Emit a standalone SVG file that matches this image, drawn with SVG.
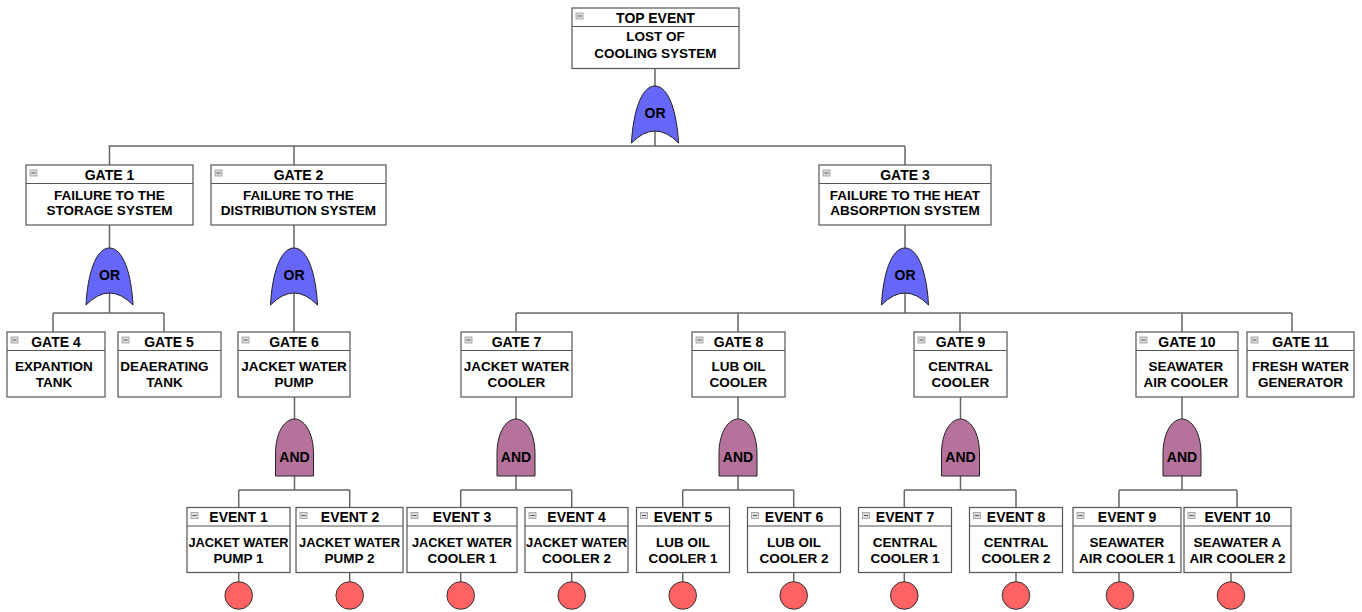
<svg xmlns="http://www.w3.org/2000/svg" xmlns:xlink="http://www.w3.org/1999/xlink" width="1362" height="612" viewBox="0 0 1362 612">
<style>
.box{fill:#fff;stroke:#555;stroke-width:1.2}
.dv{stroke:#555;stroke-width:1.2}
.ico{fill:#ddd;stroke:#999;stroke-width:0.8}
.icl{stroke:#555;stroke-width:1}
text{font-family:"Liberation Sans",Arial,sans-serif;font-weight:bold;fill:#000;text-anchor:middle}
.h{font-size:14px}
.b{font-size:13.5px}
.g{font-size:14px}
.or{fill:#6666f8;stroke:#222;stroke-width:1}
.and{fill:#b5739c;stroke:#222;stroke-width:1}
.ev{fill:#ff6262;stroke:#333;stroke-width:1}
#connectors line{stroke:#666;stroke-width:1.5}
</style>
<defs>
<path id="orShape" d="M -23.5,57 C -22,27 -14,0 0,0 C 14,0 22,27 23.5,57 Q 0,33 -23.5,57 Z"/>
<path id="andShape" d="M -19,57 L -19,35 C -19,12 -9,0 0,0 C 9,0 19,12 19,35 L 19,57 Z"/>
</defs>
<rect width="1362" height="612" fill="#fff"/>

<g id="connectors">
<line x1="655" y1="68.5" x2="655" y2="146"/>
<line x1="108.6" y1="146" x2="905" y2="146"/>
<line x1="109.5" y1="146" x2="109.5" y2="165"/>
<line x1="294" y1="146" x2="294" y2="165"/>
<line x1="905" y1="146" x2="905" y2="165"/>
<line x1="109.5" y1="225" x2="109.5" y2="313"/>
<line x1="53" y1="313" x2="164" y2="313"/>
<line x1="53" y1="313" x2="53" y2="332"/>
<line x1="164" y1="313" x2="164" y2="332"/>
<line x1="294" y1="225" x2="294" y2="332"/>
<line x1="905" y1="225" x2="905" y2="313"/>
<line x1="516" y1="313" x2="1292" y2="313"/>
<line x1="516" y1="313" x2="516" y2="332"/>
<line x1="738" y1="313" x2="738" y2="332"/>
<line x1="960" y1="313" x2="960" y2="332"/>
<line x1="1182" y1="313" x2="1182" y2="332"/>
<line x1="1292" y1="313" x2="1292" y2="332"/>
<line x1="294.5" y1="397" x2="294.5" y2="490"/>
<line x1="238.7" y1="490" x2="349.7" y2="490"/>
<line x1="238.7" y1="490" x2="238.7" y2="507.5"/>
<line x1="349.7" y1="490" x2="349.7" y2="507.5"/>
<line x1="516" y1="397" x2="516" y2="490"/>
<line x1="460.7" y1="490" x2="571.7" y2="490"/>
<line x1="460.7" y1="490" x2="460.7" y2="507.5"/>
<line x1="571.7" y1="490" x2="571.7" y2="507.5"/>
<line x1="738" y1="397" x2="738" y2="490"/>
<line x1="682.7" y1="490" x2="793.7" y2="490"/>
<line x1="682.7" y1="490" x2="682.7" y2="507.5"/>
<line x1="793.7" y1="490" x2="793.7" y2="507.5"/>
<line x1="960.5" y1="397" x2="960.5" y2="490"/>
<line x1="904.3" y1="490" x2="1016" y2="490"/>
<line x1="904.3" y1="490" x2="904.3" y2="507.5"/>
<line x1="1016" y1="490" x2="1016" y2="507.5"/>
<line x1="1182" y1="397" x2="1182" y2="490"/>
<line x1="1119" y1="490" x2="1237" y2="490"/>
<line x1="1119" y1="490" x2="1119" y2="507.5"/>
<line x1="1237" y1="490" x2="1237" y2="507.5"/>
<line x1="238.7" y1="572.5" x2="238.7" y2="582"/>
<line x1="349.7" y1="572.5" x2="349.7" y2="582"/>
<line x1="460.7" y1="572.5" x2="460.7" y2="582"/>
<line x1="571.7" y1="572.5" x2="571.7" y2="582"/>
<line x1="682.7" y1="572.5" x2="682.7" y2="582"/>
<line x1="793.7" y1="572.5" x2="793.7" y2="582"/>
<line x1="904.3" y1="572.5" x2="904.3" y2="582"/>
<line x1="1016" y1="572.5" x2="1016" y2="582"/>
<line x1="1119" y1="572.5" x2="1119" y2="582"/>
<line x1="1231" y1="572.5" x2="1231" y2="582"/>
</g>

<!-- Logic gates -->
<g id="gate-or-top"><use href="#orShape" class="or" x="655" y="86"/><text class="g" x="655" y="118">OR</text></g>
<g id="gate-or-1"><use href="#orShape" class="or" x="109.5" y="248"/><text class="g" x="109.5" y="280">OR</text></g>
<g id="gate-or-2"><use href="#orShape" class="or" x="294" y="248"/><text class="g" x="294" y="280">OR</text></g>
<g id="gate-or-3"><use href="#orShape" class="or" x="905" y="248"/><text class="g" x="905" y="280">OR</text></g>
<g id="gate-and-6"><use href="#andShape" class="and" x="294.5" y="419"/><text class="g" x="294.5" y="462">AND</text></g>
<g id="gate-and-7"><use href="#andShape" class="and" x="516" y="419"/><text class="g" x="516" y="462">AND</text></g>
<g id="gate-and-8"><use href="#andShape" class="and" x="738" y="419"/><text class="g" x="738" y="462">AND</text></g>
<g id="gate-and-9"><use href="#andShape" class="and" x="960.5" y="419"/><text class="g" x="960.5" y="462">AND</text></g>
<g id="gate-and-10"><use href="#andShape" class="and" x="1182" y="419"/><text class="g" x="1182" y="462">AND</text></g>

<!-- Top event -->
<g id="top-event">
<rect class="box" x="572" y="8" width="167" height="60.5"/>
<line class="dv" x1="572" y1="26.5" x2="739" y2="26.5"/>
<rect class="ico" x="576" y="13" width="7" height="6"/><line class="icl" x1="577.5" y1="16" x2="581.5" y2="16"/>
<text class="h" x="655.5" y="23">TOP EVENT</text>
<text class="b" x="655.5" y="41">LOST OF</text>
<text class="b" x="655.5" y="57.5">COOLING SYSTEM</text>
</g>

<!-- Level 1 -->
<g id="gate-1">
<rect class="box" x="26" y="165" width="167" height="60"/>
<line class="dv" x1="26" y1="183.5" x2="193" y2="183.5"/>
<rect class="ico" x="30" y="170" width="7" height="6"/><line class="icl" x1="31.5" y1="173" x2="35.5" y2="173"/>
<text class="h" x="109.5" y="180">GATE 1</text>
<text class="b" x="109.5" y="199.5">FAILURE TO THE</text>
<text class="b" x="109.5" y="215">STORAGE SYSTEM</text>
</g>
<g id="gate-2">
<rect class="box" x="211" y="165" width="175" height="60"/>
<line class="dv" x1="211" y1="183.5" x2="386" y2="183.5"/>
<rect class="ico" x="215" y="170" width="7" height="6"/><line class="icl" x1="216.5" y1="173" x2="220.5" y2="173"/>
<text class="h" x="298.5" y="180">GATE 2</text>
<text class="b" x="298.5" y="199.5">FAILURE TO THE</text>
<text class="b" x="298.5" y="215">DISTRIBUTION SYSTEM</text>
</g>
<g id="gate-3">
<rect class="box" x="819" y="165" width="172" height="60"/>
<line class="dv" x1="819" y1="183.5" x2="991" y2="183.5"/>
<rect class="ico" x="823" y="170" width="7" height="6"/><line class="icl" x1="824.5" y1="173" x2="828.5" y2="173"/>
<text class="h" x="905" y="180">GATE 3</text>
<text class="b" x="905" y="199.5">FAILURE TO THE HEAT</text>
<text class="b" x="905" y="215">ABSORPTION SYSTEM</text>
</g>

<!-- Level 2 -->
<g id="gate-4">
<rect class="box" x="7" y="332" width="98" height="65"/>
<line class="dv" x1="7" y1="350.5" x2="105" y2="350.5"/>
<rect class="ico" x="11" y="337" width="7" height="6"/><line class="icl" x1="12.5" y1="340" x2="16.5" y2="340"/>
<text class="h" x="56" y="346.7">GATE 4</text>
<text class="b" x="54" y="370.5">EXPANTION</text>
<text class="b" x="54" y="386.5">TANK</text>
</g>
<g id="gate-5">
<rect class="box" x="118" y="332" width="103" height="65"/>
<line class="dv" x1="118" y1="350.5" x2="221" y2="350.5"/>
<rect class="ico" x="122" y="337" width="7" height="6"/><line class="icl" x1="123.5" y1="340" x2="127.5" y2="340"/>
<text class="h" x="169" y="346.7">GATE 5</text>
<text class="b" x="164.5" y="370.5">DEAERATING</text>
<text class="b" x="164.5" y="386.5">TANK</text>
</g>
<g id="gate-6">
<rect class="box" x="238" y="332" width="112" height="65"/>
<line class="dv" x1="238" y1="350.5" x2="350" y2="350.5"/>
<rect class="ico" x="242" y="337" width="7" height="6"/><line class="icl" x1="243.5" y1="340" x2="247.5" y2="340"/>
<text class="h" x="294" y="346.7">GATE 6</text>
<text class="b" x="294" y="370.5">JACKET WATER</text>
<text class="b" x="294" y="386.5">PUMP</text>
</g>
<g id="gate-7">
<rect class="box" x="461" y="332" width="111" height="65"/>
<line class="dv" x1="461" y1="350.5" x2="572" y2="350.5"/>
<rect class="ico" x="465" y="337" width="7" height="6"/><line class="icl" x1="466.5" y1="340" x2="470.5" y2="340"/>
<text class="h" x="516.5" y="346.7">GATE 7</text>
<text class="b" x="516.5" y="370.5">JACKET WATER</text>
<text class="b" x="516.5" y="386.5">COOLER</text>
</g>
<g id="gate-8">
<rect class="box" x="692" y="332" width="93" height="65"/>
<line class="dv" x1="692" y1="350.5" x2="785" y2="350.5"/>
<rect class="ico" x="696" y="337" width="7" height="6"/><line class="icl" x1="697.5" y1="340" x2="701.5" y2="340"/>
<text class="h" x="738.5" y="346.7">GATE 8</text>
<text class="b" x="738.5" y="370.5">LUB OIL</text>
<text class="b" x="738.5" y="386.5">COOLER</text>
</g>
<g id="gate-9">
<rect class="box" x="914" y="332" width="93" height="65"/>
<line class="dv" x1="914" y1="350.5" x2="1007" y2="350.5"/>
<rect class="ico" x="918" y="337" width="7" height="6"/><line class="icl" x1="919.5" y1="340" x2="923.5" y2="340"/>
<text class="h" x="960.5" y="346.7">GATE 9</text>
<text class="b" x="960.5" y="370.5">CENTRAL</text>
<text class="b" x="960.5" y="386.5">COOLER</text>
</g>
<g id="gate-10">
<rect class="box" x="1136" y="332" width="102" height="65"/>
<line class="dv" x1="1136" y1="350.5" x2="1238" y2="350.5"/>
<rect class="ico" x="1140" y="337" width="7" height="6"/><line class="icl" x1="1141.5" y1="340" x2="1145.5" y2="340"/>
<text class="h" x="1187" y="346.7">GATE 10</text>
<text class="b" x="1186" y="370.5">SEAWATER</text>
<text class="b" x="1186" y="386.5">AIR COOLER</text>
</g>
<g id="gate-11">
<rect class="box" x="1247" y="332" width="107" height="65"/>
<line class="dv" x1="1247" y1="350.5" x2="1354" y2="350.5"/>
<rect class="ico" x="1251" y="337" width="7" height="6"/><line class="icl" x1="1252.5" y1="340" x2="1256.5" y2="340"/>
<text class="h" x="1300.5" y="346.7">GATE 11</text>
<text class="b" x="1300.5" y="370.5">FRESH WATER</text>
<text class="b" x="1300.5" y="386.5">GENERATOR</text>
</g>

<!-- Basic events -->
<g id="event-1">
<rect class="box" x="187" y="507.5" width="103" height="65"/>
<line class="dv" x1="187" y1="526" x2="290" y2="526"/>
<rect class="ico" x="191" y="512.5" width="7" height="6"/><line class="icl" x1="192.5" y1="515.5" x2="196.5" y2="515.5"/>
<text class="h" x="238.5" y="522">EVENT 1</text>
<text class="b" x="238.5" y="547" textLength="100" lengthAdjust="spacingAndGlyphs">JACKET WATER</text>
<text class="b" x="238.5" y="563">PUMP 1</text>
<circle class="ev" cx="238.7" cy="595.5" r="13.8"/>
</g>
<g id="event-2">
<rect class="box" x="296" y="507.5" width="107" height="65"/>
<line class="dv" x1="296" y1="526" x2="403" y2="526"/>
<rect class="ico" x="300" y="512.5" width="7" height="6"/><line class="icl" x1="301.5" y1="515.5" x2="305.5" y2="515.5"/>
<text class="h" x="350" y="522">EVENT 2</text>
<text class="b" x="349.5" y="547" textLength="101" lengthAdjust="spacingAndGlyphs">JACKET WATER</text>
<text class="b" x="349.5" y="563">PUMP 2</text>
<circle class="ev" cx="349.7" cy="595.5" r="13.8"/>
</g>
<g id="event-3">
<rect class="box" x="407" y="507.5" width="110" height="65"/>
<line class="dv" x1="407" y1="526" x2="517" y2="526"/>
<rect class="ico" x="411" y="512.5" width="7" height="6"/><line class="icl" x1="412.5" y1="515.5" x2="416.5" y2="515.5"/>
<text class="h" x="462" y="522">EVENT 3</text>
<text class="b" x="462" y="547" textLength="100" lengthAdjust="spacingAndGlyphs">JACKET WATER</text>
<text class="b" x="462" y="563">COOLER 1</text>
<circle class="ev" cx="460.7" cy="595.5" r="13.8"/>
</g>
<g id="event-4">
<rect class="box" x="525" y="507.5" width="103" height="65"/>
<line class="dv" x1="525" y1="526" x2="628" y2="526"/>
<rect class="ico" x="529" y="512.5" width="7" height="6"/><line class="icl" x1="530.5" y1="515.5" x2="534.5" y2="515.5"/>
<text class="h" x="576.5" y="522">EVENT 4</text>
<text class="b" x="576.5" y="547" textLength="101" lengthAdjust="spacingAndGlyphs">JACKET WATER</text>
<text class="b" x="576.5" y="563">COOLER 2</text>
<circle class="ev" cx="571.7" cy="595.5" r="13.8"/>
</g>
<g id="event-5">
<rect class="box" x="636.5" y="507.5" width="93" height="65"/>
<line class="dv" x1="636.5" y1="526" x2="729.5" y2="526"/>
<rect class="ico" x="640.5" y="512.5" width="7" height="6"/><line class="icl" x1="642" y1="515.5" x2="646" y2="515.5"/>
<text class="h" x="683" y="522">EVENT 5</text>
<text class="b" x="683" y="547">LUB OIL</text>
<text class="b" x="683" y="563">COOLER 1</text>
<circle class="ev" cx="682.7" cy="595.5" r="13.8"/>
</g>
<g id="event-6">
<rect class="box" x="747.5" y="507.5" width="93" height="65"/>
<line class="dv" x1="747.5" y1="526" x2="840.5" y2="526"/>
<rect class="ico" x="751.5" y="512.5" width="7" height="6"/><line class="icl" x1="753" y1="515.5" x2="757" y2="515.5"/>
<text class="h" x="794" y="522">EVENT 6</text>
<text class="b" x="794" y="547">LUB OIL</text>
<text class="b" x="794" y="563">COOLER 2</text>
<circle class="ev" cx="793.7" cy="595.5" r="13.8"/>
</g>
<g id="event-7">
<rect class="box" x="858.5" y="507.5" width="93" height="65"/>
<line class="dv" x1="858.5" y1="526" x2="951.5" y2="526"/>
<rect class="ico" x="862.5" y="512.5" width="7" height="6"/><line class="icl" x1="864" y1="515.5" x2="868" y2="515.5"/>
<text class="h" x="905" y="522">EVENT 7</text>
<text class="b" x="905" y="547">CENTRAL</text>
<text class="b" x="905" y="563">COOLER 1</text>
<circle class="ev" cx="904.3" cy="595.5" r="13.8"/>
</g>
<g id="event-8">
<rect class="box" x="969.5" y="507.5" width="93" height="65"/>
<line class="dv" x1="969.5" y1="526" x2="1062.5" y2="526"/>
<rect class="ico" x="973.5" y="512.5" width="7" height="6"/><line class="icl" x1="975" y1="515.5" x2="979" y2="515.5"/>
<text class="h" x="1016" y="522">EVENT 8</text>
<text class="b" x="1016" y="547">CENTRAL</text>
<text class="b" x="1016" y="563">COOLER 2</text>
<circle class="ev" cx="1016" cy="595.5" r="13.8"/>
</g>
<g id="event-9">
<rect class="box" x="1073" y="507.5" width="108" height="65"/>
<line class="dv" x1="1073" y1="526" x2="1181" y2="526"/>
<rect class="ico" x="1077" y="512.5" width="7" height="6"/><line class="icl" x1="1078.5" y1="515.5" x2="1082.5" y2="515.5"/>
<text class="h" x="1127" y="522">EVENT 9</text>
<text class="b" x="1127" y="547">SEAWATER</text>
<text class="b" x="1127" y="563">AIR COOLER 1</text>
<circle class="ev" cx="1120" cy="595.5" r="13.8"/>
</g>
<g id="event-10">
<rect class="box" x="1184" y="507.5" width="107" height="65"/>
<line class="dv" x1="1184" y1="526" x2="1291" y2="526"/>
<rect class="ico" x="1188" y="512.5" width="7" height="6"/><line class="icl" x1="1189.5" y1="515.5" x2="1193.5" y2="515.5"/>
<text class="h" x="1237.5" y="522">EVENT 10</text>
<text class="b" x="1237.5" y="547">SEAWATER A</text>
<text class="b" x="1237.5" y="563">AIR COOLER 2</text>
<circle class="ev" cx="1231" cy="595.5" r="13.8"/>
</g>
</svg>
